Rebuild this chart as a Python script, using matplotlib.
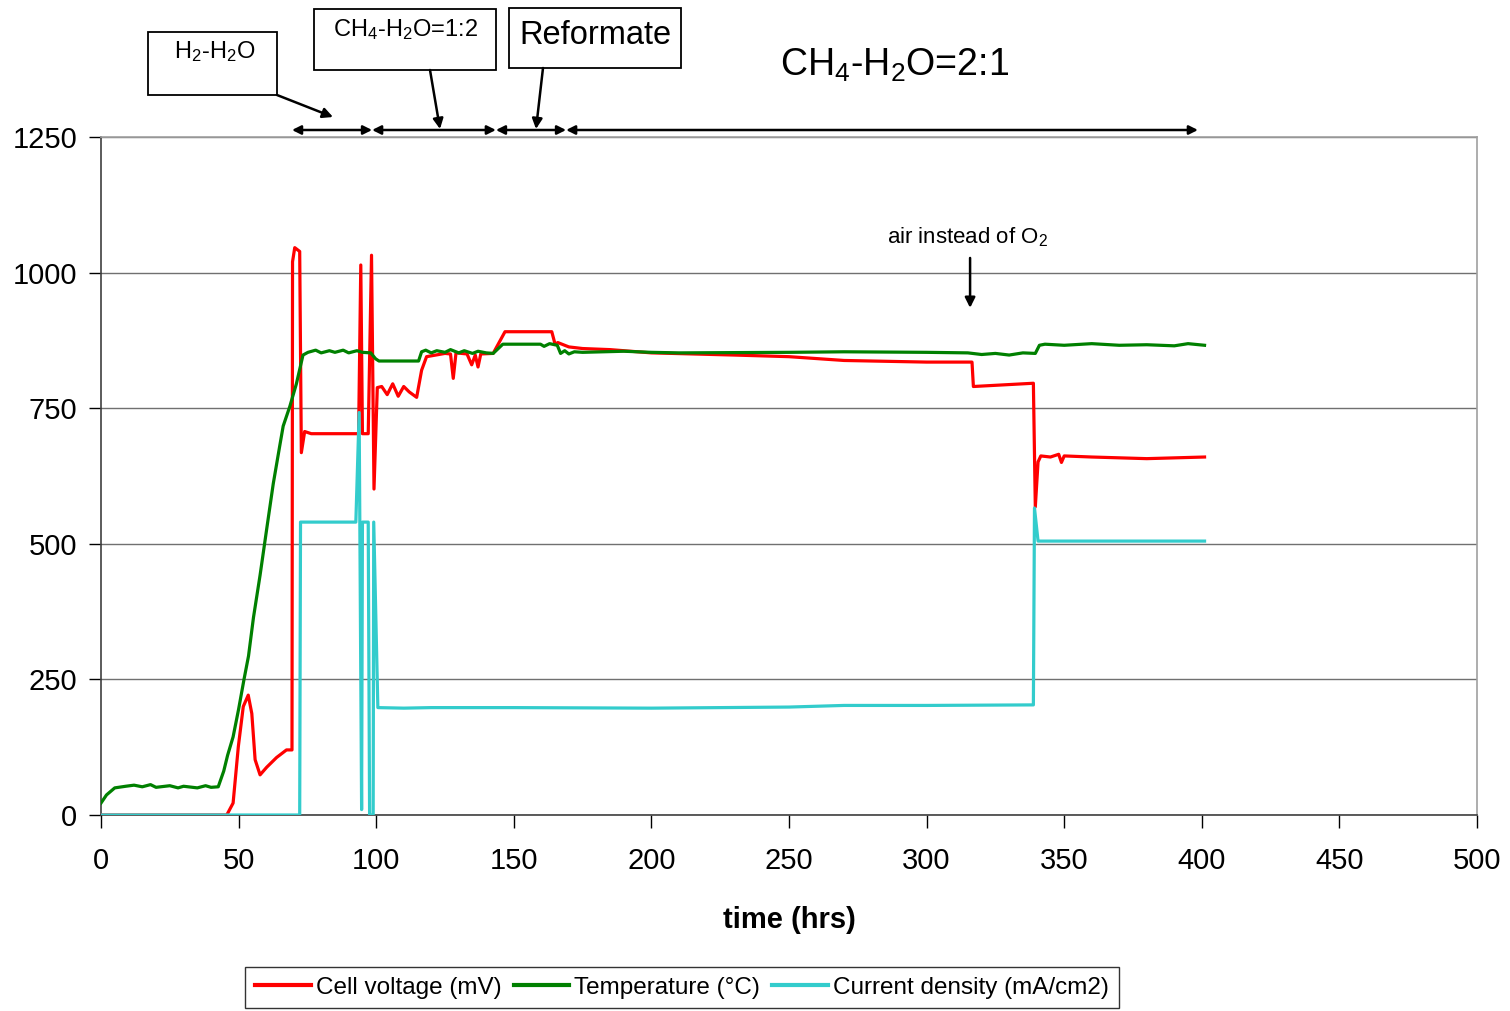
import matplotlib
matplotlib.use("Agg")
import matplotlib.pyplot as plt
from matplotlib.patches import Rectangle, FancyArrowPatch

plt.rcParams['font.family'] = ['Liberation Sans', 'DejaVu Sans']
plt.rcParams['mathtext.fontset'] = 'custom'
plt.rcParams['mathtext.rm'] = 'Liberation Sans'
plt.rcParams['mathtext.it'] = 'Liberation Sans:italic'
plt.rcParams['mathtext.bf'] = 'Liberation Sans:bold'

# ---------------- data ----------------
temp_t = [0, 2, 5, 9, 12, 15, 18, 20, 25, 28, 30, 35, 38, 40, 42.6, 44.6, 46, 48, 50, 52,
          53.6, 55.4, 57.8, 60.2, 62.6, 65, 66.2, 68.6, 71, 73.4, 75.2, 78, 80, 83, 85, 88,
          90, 93, 95, 98, 99.8, 101, 115.4, 116.5, 118, 120, 122, 125, 127, 130, 132, 135,
          137, 140, 142.5, 146, 155, 159.7, 161, 163, 165.8, 167, 168.5, 170, 172, 175,
          190, 200, 210, 250, 270, 300, 315, 320, 325, 330, 335, 339.5, 341, 343, 350, 360,
          370, 380, 390, 395, 401]
temp_v = [22, 37, 50, 53, 55, 52, 56, 51, 54, 50, 53, 50, 54, 51, 52, 81, 110, 144, 195, 251,
          293, 364, 442, 527, 611, 682, 717, 753, 795, 848, 853, 857, 852, 856, 853, 857,
          852, 856, 853, 852, 841, 837, 837, 854, 857, 852, 856, 853, 858, 852, 856, 851,
          855, 852, 851, 868, 868, 868, 864, 869, 866, 851, 856, 850, 854, 853,
          855, 853, 852, 853, 854, 853, 852, 849, 851, 848, 852, 851, 866, 868, 866, 869,
          866, 867, 865, 869, 866]

volt_t = [0, 45.7, 48, 49.9, 51.7, 53.5, 54.8, 56, 57.8, 60.2, 63.8, 67.4, 69.4, 69.6,
          70.4, 72.2, 72.8, 74, 76.4, 92.6, 93.6, 94.4, 95, 97.1, 98.3, 99.2, 100.4, 102,
          104, 106, 108, 110, 112, 114.7, 116.5, 118.3, 125, 127, 128, 129, 133, 134.7,
          136, 137, 138, 142.5, 146.8, 163.8, 165, 166, 170, 175, 185, 200, 230, 250, 270,
          300, 316.5, 317, 338.8, 339.5, 340.5, 341.5, 345, 348, 349, 350, 360, 380, 401]
volt_v = [0, 0, 22, 126, 200, 221, 187, 102, 74, 88, 106, 120, 120, 1020,
          1046, 1039, 668, 707, 703, 703, 703, 1014, 703, 703, 1032, 601, 788, 790,
          775, 795, 772, 790, 780, 770, 820, 845, 851, 850, 805, 852, 850, 830,
          848, 826, 850, 851, 891, 891, 868, 871, 863, 860, 858, 852, 848, 845, 838,
          835, 835, 790, 796, 568, 651, 662, 660, 665, 650, 662, 660, 657, 660]

curr_t = [0, 72.2, 72.5, 92.6, 93.8, 94.7, 95, 97.1, 97.6, 98.9, 99.1, 100.6, 110, 120,
          150, 200, 250, 270, 300, 338.8, 339.2, 340.5, 360, 401]
curr_v = [0, 0, 540, 540, 742, 10, 540, 540, 0, 0, 540, 198, 197, 198,
          198, 197, 199, 202, 202, 203, 566, 505, 505, 505]

xticks = [0, 50, 100, 150, 200, 250, 300, 350, 400, 450, 500]
yticks = [0, 250, 500, 750, 1000, 1250]

labels = ['Cell voltage (mV)', 'Temperature (°C)', 'Current density (mA/cm2)']
colors = ['#ff0000', '#008000', '#33cccc']

# phase boundaries (hrs) for the double arrows above the plot
phase_edges = [69.4, 98.5, 143.5, 169.0, 398.6]

W, H = 1510, 1011
fig = plt.figure(figsize=(W / 100, H / 100), dpi=100)
ax = fig.add_axes([101 / W, 1 - 815 / H, (1477 - 101) / W, (815 - 137) / H])

ax.plot(volt_t, volt_v, color=colors[0], lw=2.3, label=labels[0], zorder=3)
ax.plot(temp_t, temp_v, color=colors[1], lw=2.3, label=labels[1], zorder=4)
ax.plot(curr_t, curr_v, color=colors[2], lw=2.3, label=labels[2], zorder=3)

ax.set_xlim(0, 500)
ax.set_ylim(0, 1250)
ax.set_xticks(xticks)
ax.set_yticks(yticks)
ax.tick_params(axis='both', labelsize=21, direction='out', color='black')
ax.tick_params(axis='x', length=9, width=1, pad=14)
ax.tick_params(axis='y', length=9, width=1, pad=8)
ax.yaxis.grid(True, color='#707070', lw=1)
ax.set_axisbelow(True)
for s in ['top', 'right']:
    ax.spines[s].set_color('#a0a0a0')
    ax.spines[s].set_linewidth(1.2)
for s in ['left', 'bottom']:
    ax.spines[s].set_color('#404040')
    ax.spines[s].set_linewidth(1.2)
ax.set_xlabel('time (hrs)', fontsize=21, fontweight='bold', labelpad=22)

# legend
leg = fig.legend(*ax.get_legend_handles_labels(), loc='upper center',
                 bbox_to_anchor=(682 / W, 1 - 967 / H), ncol=3, fontsize=17.5,
                 frameon=True, fancybox=False, edgecolor='black', handlelength=2.3,
                 handletextpad=0.2, columnspacing=0.5, borderpad=0.4, borderaxespad=0)
leg.get_frame().set_linewidth(1.0)
for line in leg.get_lines():
    line.set_linewidth(3)

# phase double arrows (above the axes)
yarr = 1 - 130 / H
for a, b in zip(phase_edges[:-1], phase_edges[1:]):
    ax.annotate('', xy=(b, yarr), xytext=(a, yarr),
                xycoords=('data', 'figure fraction'),
                textcoords=('data', 'figure fraction'),
                arrowprops=dict(arrowstyle='<|-|>', color='black', lw=1.8,
                                mutation_scale=13, shrinkA=0, shrinkB=0),
                annotation_clip=False)

# boxes
def fbox(x0, y0, x1, y1):
    fig.patches.append(Rectangle((x0 / W, 1 - y1 / H), (x1 - x0) / W, (y1 - y0) / H,
                                 transform=fig.transFigure, fill=False,
                                 edgecolor='black', lw=1.3))

fbox(148, 32, 277, 95)
fbox(314, 9, 496, 70)
fbox(509, 8, 681, 68)
fig.text(215 / W, 1 - 52 / H, 'H$_2$-H$_2$O', fontsize=17, ha='center', va='center')
fig.text(405 / W, 1 - 30 / H, 'CH$_4$-H$_2$O=1:2', fontsize=17, ha='center', va='center')
fig.text(595 / W, 1 - 36 / H, 'Reformate', fontsize=23.5, ha='center', va='center')
fig.text(895 / W, 1 - 65 / H, 'CH$_4$-H$_2$O=2:1', fontsize=27, ha='center', va='center')

def farrow(x0, y0, x1, y1):
    fig.add_artist(FancyArrowPatch(
        (x0 / W, 1 - y0 / H), (x1 / W, 1 - y1 / H), transform=fig.transFigure,
        arrowstyle='-|>', mutation_scale=15, color='black', lw=1.8,
        shrinkA=0, shrinkB=0))

farrow(277, 95, 333, 117)
farrow(430, 70, 440, 129)
farrow(543, 68, 536, 129)

# air instead of O2
ax.text(314.7, 1066, 'air instead of O$_2$', fontsize=16, ha='center', va='center')
ax.annotate('', xy=(315.8, 935), xytext=(315.8, 1027),
            arrowprops=dict(arrowstyle='-|>', color='black', lw=1.8,
                            mutation_scale=15, shrinkA=0, shrinkB=0))

fig.savefig('out.png', dpi=100)
